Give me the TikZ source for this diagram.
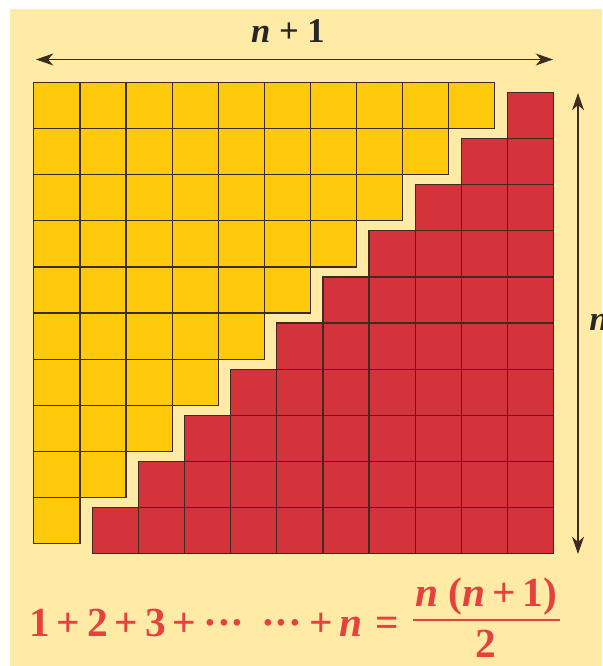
\documentclass[tikz,border=0pt]{standalone}
\usepackage{fontspec}
\setmainfont{Liberation Serif}
\usetikzlibrary{arrows.meta}
\definecolor{cream}{HTML}{FFEBA5}
\definecolor{gold}{HTML}{FFC90C}
\definecolor{brick}{HTML}{D5333B}
\definecolor{sumred}{HTML}{E5413E}
\definecolor{edge}{HTML}{3B2B22}
\tikzset{
  ycell/.style={fill=gold,draw=edge,line width=0.9pt},
  rcell/.style={fill=brick,draw=edge,line width=0.9pt},
  dimarrow/.style={draw=edge,line width=1pt,
    {Stealth[length=13pt,width=9pt,inset=4pt]}-{Stealth[length=13pt,width=9pt,inset=4pt]}},
  lbl/.style={font=\fontsize{26}{30}\selectfont\bfseries,text=black!85,inner sep=0pt},
  sumtext/.style={font=\fontsize{31}{36}\selectfont\bfseries,text=sumred,inner sep=0pt,anchor=base}
}
\begin{document}
\begin{tikzpicture}[x=0.75pt,y=-0.75pt]
  % Page and background
  \fill[white] (0,0) rectangle (602,666);
  \fill[cream] (10,9) rectangle (602,666);
  \useasboundingbox (0,0) rectangle (602,666);
  % Yellow staircase
  \foreach \r in {0,...,9}{
    \pgfmathtruncatemacro\last{9-\r}
    \foreach \c in {0,...,\last}
      \draw[ycell] (33.8+46.1*\c,82.5+46.1*\r) rectangle ++(46.1,46.1);
  }
  % Red staircase
  \foreach \r in {0,...,9}{
    \pgfmathtruncatemacro\first{9-\r}
    \foreach \c in {\first,...,9}
      \draw[rcell] (92.4+46.1*\c,92.5+46.1*\r) rectangle ++(46.1,46.1);
  }
  % Width n+1
  \coordinate (wl) at (36,59.5);
  \coordinate (wr) at (553,59.5);
  \draw[dimarrow] (wl) -- (wr);
  \node[lbl,anchor=base] (wlab) at (288,42.7) {\textit{n} + 1};
  % Height n
  \coordinate (ht) at (578,93);
  \coordinate (hb) at (578,554);
  \draw[dimarrow] (hb) -- (ht);
  \node[lbl,anchor=west] (hlab) at (589,322) {\textit{n}};
  % Sum formula
  \node[sumtext,anchor=base west] (lhs) at (29,636)
    {1\,+\,2\,+\,3\,+\,···\hspace{0.4em}···\,+\,\textit{n}\hspace{0.3em}=};
  \node[sumtext] (num) at (486,606) {\textit{n} (\textit{n}\,+\,1)};
  \coordinate (barl) at (413,620);
  \coordinate (barr) at (560,620);
  \draw[sumred,line width=1.8pt] (barl) -- (barr);
  \node[sumtext] (den) at (486,657) {2};
\end{tikzpicture}
\end{document}
